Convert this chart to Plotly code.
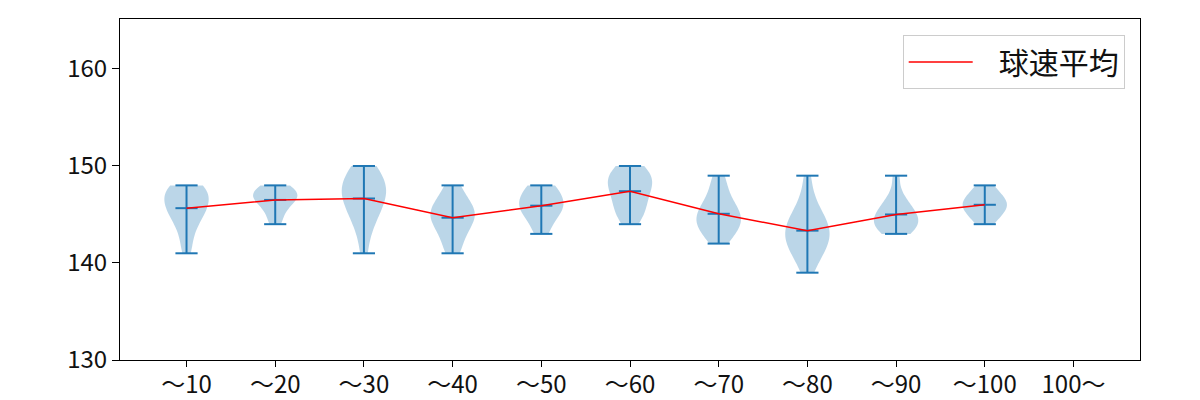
import numpy as np
import plotly.graph_objects as go

categories = ["〜10", "〜20", "〜30", "〜40", "〜50", "〜60", "〜70", "〜80", "〜90", "〜100", "100〜"]

speeds_10 = [148, 148, 148, 148, 147, 147, 147, 147, 146, 146, 146, 146, 145, 145, 145, 144, 144, 143, 142, 141]
speeds_20 = [148, 148, 147, 147, 147, 147, 146, 146, 145, 144]
speeds_30 = [150, 150, 149, 149, 148, 148, 148, 147, 147, 147, 146, 146, 145, 145, 144, 143, 141]
speeds_40 = [148, 147, 146, 146, 145, 145, 145, 144, 144, 143, 142, 141]
speeds_50 = [148, 148, 147, 147, 146, 146, 146, 145, 145, 144, 143]
speeds_60 = [150, 150, 149, 149, 149, 148, 148, 148, 147, 147, 146, 146, 145, 145, 144]
speeds_70 = [149, 148, 147, 146, 146, 145, 145, 145, 144, 144, 144, 143, 143, 142]
speeds_80 = [149, 147, 146, 145, 145, 144, 144, 144, 143, 143, 143, 142, 142, 142, 141, 141, 140, 139]
speeds_90 = [149, 147, 146, 146, 145, 145, 145, 144, 144, 144, 144, 143, 143]
speeds_100 = [148, 147, 147, 146, 146, 146, 145, 145, 144]

series = [speeds_10, speeds_20, speeds_30, speeds_40, speeds_50, speeds_60,
          speeds_70, speeds_80, speeds_90, speeds_100]

legend_label = "球速平均"

BLUE = "#1f77b4"
FONT = "Noto Sans CJK JP"

fig = go.Figure()

positions = list(range(1, len(categories) + 1))
means_x, means_y = [], []
stem_x, stem_y = [], []
cap_x, cap_y = [], []
half = 0.125

for pos, data in zip(positions, series):
    arr = np.asarray(data, dtype=float)
    bw = arr.std(ddof=1) * len(arr) ** (-1 / 5)
    fig.add_trace(go.Violin(
        x=[pos] * len(arr), y=arr, width=0.5, bandwidth=bw,
        spanmode="hard", points=False, box_visible=False, meanline_visible=False,
        fillcolor="rgba(31,119,180,0.3)", line=dict(width=0, color="rgba(31,119,180,0)"),
        hoverinfo="skip", showlegend=False, scalemode="width", orientation="v",
    ))
    mn, mx, mean = arr.min(), arr.max(), arr.mean()
    means_x.append(pos)
    means_y.append(mean)
    stem_x += [pos, pos, None]
    stem_y += [mn, mx, None]
    for v in (mn, mx, mean):
        cap_x += [pos - half, pos + half, None]
        cap_y += [v, v, None]

fig.add_trace(go.Scatter(x=stem_x, y=stem_y, mode="lines",
                         line=dict(color=BLUE, width=2), showlegend=False, hoverinfo="skip"))
fig.add_trace(go.Scatter(x=cap_x, y=cap_y, mode="lines",
                         line=dict(color=BLUE, width=2), showlegend=False, hoverinfo="skip"))
fig.add_trace(go.Scatter(x=means_x, y=means_y, mode="lines", name="\u2002\u2009" + legend_label,
                         line=dict(color="red", width=1.5)))

fig.update_layout(
    width=1200, height=400,
    margin=dict(l=120, r=60, t=19, b=40, autoexpand=False),
    plot_bgcolor="white", paper_bgcolor="white",
    violinmode="overlay",
    font=dict(family=FONT, size=24, color="#111111"),
    legend=dict(x=0.985, y=0.953, xanchor="right", yanchor="top",
                bordercolor="#cccccc", borderwidth=1, bgcolor="white",
                itemwidth=64,
                font=dict(size=30, family=FONT)),
)
fig.update_xaxes(range=[0.25, 11.75], tickmode="array", tickvals=positions, ticktext=categories,
                 showline=True, linecolor="black", linewidth=1, mirror=True, automargin=False,
                 ticks="outside", ticklen=6, tickcolor="black", showgrid=False, zeroline=False,
                 ticklabelstandoff=-3)
fig.update_yaxes(range=[130, 165.15], tickmode="array", tickvals=[130, 140, 150, 160],
                 showline=True, linecolor="black", linewidth=1, mirror=True, automargin=False,
                 ticks="outside", ticklen=7, tickcolor="black", showgrid=False, zeroline=False)

fig.write_html("out.html")
